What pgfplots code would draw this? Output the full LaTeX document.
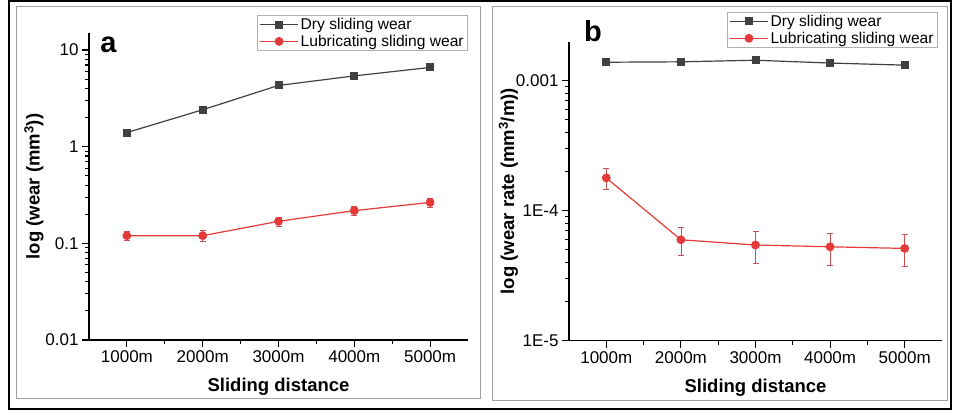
\documentclass[border=0pt]{standalone}
\usepackage{fontspec}
\setmainfont{Liberation Sans}
\usepackage{pgfplots}
\pgfplotsset{compat=1.18}
\usepackage{pgfplotstable}
\definecolor{dryc}{HTML}{404040}
\definecolor{lubc}{HTML}{E53A3A}
\definecolor{lube}{HTML}{C85050}

\pgfplotstableread{
x y e
0 1.40 0.03
1 2.41 0.05
2 4.30 0.08
3 5.40 0.10
4 6.60 0.12
}\dryA
\pgfplotstableread{
x y e
0 0.120 0.014
1 0.120 0.016
2 0.169 0.018
3 0.218 0.022
4 0.265 0.028
}\lubA
\pgfplotstableread{
x y e
0 0.00139 0.00005
1 0.00140 0.00005
2 0.00144 0.00005
3 0.00137 0.00005
4 0.00132 0.00006
}\dryB
\pgfplotstableread{
x y e
0 1.79e-4 3.3e-5
1 5.98e-5 1.45e-5
2 5.45e-5 1.50e-5
3 5.28e-5 1.45e-5
4 5.13e-5 1.40e-5
}\lubB

\begin{document}
\begin{tikzpicture}
\useasboundingbox (0pt,0pt) rectangle (953pt,411pt);
\draw[line width=2.5pt, black] (9pt,2pt) rectangle (951pt,410pt);
\draw[line width=1pt, gray!75] (16pt,12pt) rectangle (480pt,404pt);
\draw[line width=1pt, gray!75] (492pt,10pt) rectangle (947pt,404pt);

\begin{axis}[
  scale only axis,
  at={(89pt,71pt)}, anchor=south west,
  width=379pt, height=307pt,
  ymode=log,
  xmin=-0.5, xmax=4.5,
  ymin=0.01, ymax=15,
  xtick={0,1,2,3,4},
  xticklabels={1000m,2000m,3000m,4000m,5000m},
  minor xtick={0.5,1.5,2.5,3.5},
  ytick={0.01,0.1,1,10},
  yticklabels={0.01,0.1,1,10},
  axis x line*=bottom,
  axis y line*=left,
  axis line style={line width=1.2pt, black},
  tick align=outside,
  major tick length=7pt,
  minor tick length=4pt,
  tick style={line width=1.1pt, black},
  ticklabel style={font=\fontsize{17}{20}\selectfont},
  xlabel={\bfseries Sliding distance},
  ylabel={\bfseries log (wear (mm\textsuperscript{3}))},
  xlabel style={font=\fontsize{18.5}{22}\selectfont, yshift=-9pt},
  ylabel style={font=\fontsize{18.5}{22}\selectfont, yshift=-5pt},
  legend cell align=left,
  legend image code/.code={\draw[mark repeat=2,mark phase=2,#1] plot coordinates {(0pt,0pt) (19pt,0pt) (38pt,0pt)};},
  legend style={draw=gray!60, line width=0.6pt, font=\fontsize{15.6}{19}\selectfont,
      inner xsep=2pt, inner ysep=1pt, at={(1,1.059)}, anchor=north east},
  clip=false,
]
\addplot[color=dryc, line width=1.2pt, mark=square*, mark size=3.4pt, mark options={fill=dryc, solid},
  error bars/y dir=both, error bars/y explicit,
  error bars/error bar style={line width=0.8pt, dryc},
  error bars/error mark options={rotate=90, mark size=3pt, line width=0.8pt, dryc}]
  table[x=x, y=y, y error=e] {\dryA};
\addlegendentry{Dry sliding wear}
\addplot[color=lubc, line width=1.2pt, mark=*, mark size=3.8pt, mark options={fill=lubc, solid},
  error bars/y dir=both, error bars/y explicit,
  error bars/error bar style={line width=0.8pt, lube},
  error bars/error mark options={rotate=90, mark size=3pt, line width=0.8pt, lube}]
  table[x=x, y=y, y error=e] {\lubA};
\addlegendentry{Lubricating sliding wear}
\end{axis}

\begin{axis}[
  scale only axis,
  at={(569pt,70.3pt)}, anchor=south west,
  width=373pt, height=299pt,
  ymode=log,
  xmin=-0.5, xmax=4.5,
  ymin=1e-5, ymax=2e-3,
  xtick={0,1,2,3,4},
  xticklabels={1000m,2000m,3000m,4000m,5000m},
  minor xtick={0.5,1.5,2.5,3.5},
  ytick={1e-5,1e-4,1e-3},
  yticklabels={1E-5,1E-4,0.001},
  axis x line*=bottom,
  axis y line*=left,
  axis line style={line width=1.2pt, black},
  tick align=outside,
  major tick length=7pt,
  minor tick length=4pt,
  tick style={line width=1.1pt, black},
  ticklabel style={font=\fontsize{17}{20}\selectfont},
  xlabel={\bfseries Sliding distance},
  ylabel={\bfseries log (wear rate (mm\textsuperscript{3}/m))},
  xlabel style={font=\fontsize{18.5}{22}\selectfont, yshift=-9pt},
  ylabel style={font=\fontsize{18.5}{22}\selectfont, yshift=-9pt},
  legend cell align=left,
  legend image code/.code={\draw[mark repeat=2,mark phase=2,#1] plot coordinates {(0pt,0pt) (19pt,0pt) (38pt,0pt)};},
  legend style={draw=gray!60, line width=0.6pt, font=\fontsize{15.6}{19}\selectfont,
      inner xsep=2pt, inner ysep=1pt, at={(0.989,1.100)}, anchor=north east},
  clip=false,
]
\addplot[color=dryc, line width=1.2pt, mark=square*, mark size=3.4pt, mark options={fill=dryc, solid},
  error bars/y dir=both, error bars/y explicit,
  error bars/error bar style={line width=0.8pt, dryc},
  error bars/error mark options={rotate=90, mark size=3pt, line width=0.8pt, dryc}]
  table[x=x, y=y, y error=e] {\dryB};
\addlegendentry{Dry sliding wear}
\addplot[color=lubc, line width=1.2pt, mark=*, mark size=3.8pt, mark options={fill=lubc, solid},
  error bars/y dir=both, error bars/y explicit,
  error bars/error bar style={line width=0.8pt, lube},
  error bars/error mark options={rotate=90, mark size=3pt, line width=0.8pt, lube}]
  table[x=x, y=y, y error=e] {\lubB};
\addlegendentry{Lubricating sliding wear}
\end{axis}

\node[anchor=base, font=\fontsize{29}{32}\selectfont\bfseries, inner sep=0pt] at (108.5pt,358pt) {a};
\node[anchor=base, font=\fontsize{29}{32}\selectfont\bfseries, inner sep=0pt] at (593pt,369pt) {b};
\end{tikzpicture}
\end{document}
